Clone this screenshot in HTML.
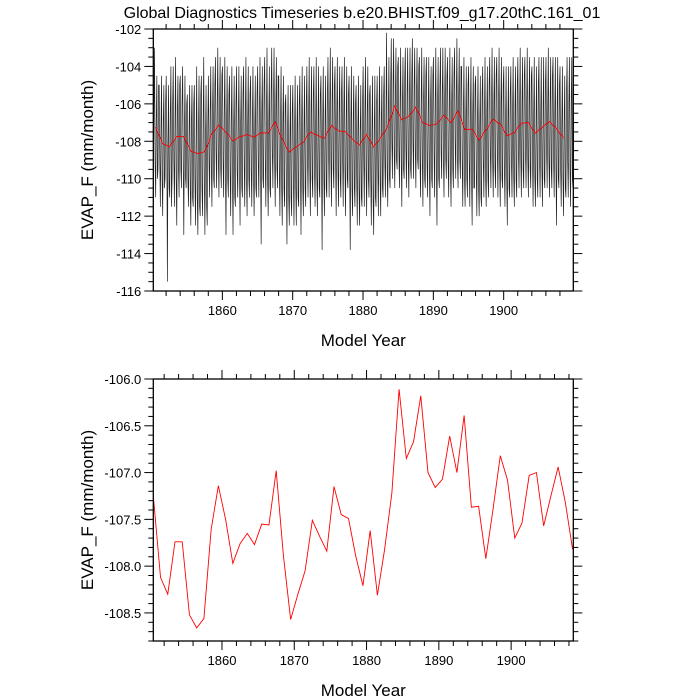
<!DOCTYPE html>
<html><head><meta charset="utf-8"><style>
html,body{margin:0;padding:0;background:#fff;}
svg{display:block;font-family:"Liberation Sans",Arial,sans-serif;}
</style></head><body>
<svg id="chart" width="700" height="700" viewBox="0 0 700 700">
<text x="362" y="18" font-size="16" text-anchor="middle">Global Diagnostics Timeseries b.e20.BHIST.f09_g17.20thC.161_01</text>
<g id="top"></g>
<g id="bot"></g>
</svg>
<script>
const years = [];
for (let y = 1850; y <= 1908; y++) years.push(y);
const annualMean = [-107.25,-108.12,-108.30,-107.74,-107.74,-108.52,-108.66,-108.56,-107.61,-107.14,
-107.50,-107.97,-107.76,-107.65,-107.77,-107.55,-107.56,-106.98,-107.89,-108.57,
-108.30,-108.05,-107.51,-107.68,-107.84,-107.15,-107.45,-107.49,-107.89,-108.21,
-107.62,-108.31,-107.82,-107.22,-106.11,-106.85,-106.67,-106.18,-107.00,-107.16,
-107.07,-106.61,-107.00,-106.39,-107.37,-107.36,-107.92,-107.39,-106.82,-107.08,
-107.70,-107.54,-107.03,-107.00,-107.57,-107.25,-106.94,-107.32,-107.82];
const monthly = [
-103.5,-108.5,-110.5,-106.5,-103,-109,-111,-107,-104.5,-110,-109.5,-105,
-105,-109,-111.5,-107.5,-104.5,-110,-112,-107,-105,-110.5,-110,-106,
-104.5,-108,-115.5,-108,-105,-110.5,-111,-106.5,-104,-111.5,-110,-106,
-104,-109,-111.5,-107,-103.5,-110,-112.5,-106.5,-104.5,-109.5,-111,-105,
-104.5,-109.5,-110.5,-106,-104,-109,-113,-107.5,-104.5,-110,-110.5,-106,
-105.5,-110,-111.5,-107.5,-105,-110.5,-112.5,-107,-105,-111,-111.5,-106,
-105,-110,-112.5,-108,-104,-111,-113,-107.5,-104.5,-111.5,-112,-105.5,
-104.5,-110.5,-112,-107,-103.5,-110,-113,-108,-105,-111.5,-112.5,-107,
-104.5,-109,-111,-106.5,-104,-109.5,-111.5,-106.5,-104,-110,-110.5,-105,
-103.5,-108.5,-110.5,-106,-103,-109,-111,-106,-103.5,-109.5,-110.5,-104.5,
-104,-109,-111,-106.5,-103.5,-109.5,-113,-107,-104,-110,-111,-105.5,
-104.5,-109.5,-112,-107,-104,-110,-113,-107.5,-104.5,-111,-111.5,-106,
-104,-109.5,-111,-107,-104,-109.5,-112.5,-107,-104.5,-110.5,-111,-105.5,
-104,-109,-111.5,-106.5,-103.5,-110,-112,-107,-104,-110,-111,-105.5,
-104.5,-109.5,-111.5,-107,-104,-110,-112,-107.5,-104.5,-110.5,-111,-105.5,
-104,-109,-111,-106.5,-103.5,-109.5,-113.5,-106.5,-104,-110,-110.5,-105,
-103.5,-109,-111.5,-106.5,-103,-110,-112,-107,-104,-110.5,-111,-105.5,
-103,-108.5,-110.5,-106,-103,-109,-111.5,-106,-103.5,-109.5,-110.5,-104.5,
-104.5,-109.5,-112,-107,-104,-110.5,-112.5,-107,-104.5,-110.5,-111.5,-106,
-105.5,-110,-113.5,-107.5,-105,-111,-112.5,-108,-105,-111,-112,-106.5,
-105,-110,-112.5,-107.5,-104.5,-110.5,-112.5,-107.5,-105,-111,-111.5,-106,
-104.5,-109.5,-113,-107,-104,-110.5,-112,-107.5,-104.5,-110.5,-111.5,-106,
-104,-109,-111,-106.5,-103.5,-109.5,-112,-106.5,-104,-110,-111,-105.5,
-104,-109.5,-111.5,-107,-103.5,-110,-112,-107,-104,-110.5,-111,-105.5,
-104.5,-109.5,-113.8,-107,-104,-110,-112,-107,-104.5,-110.5,-111,-105.5,
-103.5,-108.5,-111,-106,-103,-109,-111.5,-106,-103.5,-109.5,-110.5,-105,
-104,-109,-112,-106.5,-103.5,-109.5,-111.5,-106.5,-104,-110,-111,-105.5,
-104,-109,-111.5,-106.5,-103.5,-109.5,-112,-107,-104,-110,-110.5,-105.5,
-104.5,-109.5,-113.8,-107,-104,-110.5,-112,-107,-104.5,-110.5,-111.5,-106,
-105,-110,-112.5,-107.5,-104.5,-110.5,-112.5,-107.5,-105,-111,-111.5,-106,
-104,-109,-111.5,-106.5,-103.5,-109.5,-112,-106.5,-104,-110,-111,-105.5,
-105,-110,-112.5,-107.5,-104.5,-111,-113,-107.5,-104.5,-111,-111.5,-106,
-104.5,-109.5,-112,-107,-104,-110,-112,-107,-104.5,-110.5,-111,-105.5,
-104,-109,-111,-106.5,-102.2,-109.5,-111.5,-106.5,-103.5,-110,-110.5,-105,
-102.5,-108,-110,-105,-102.5,-108.5,-110.5,-105.5,-103,-109,-109.5,-104,
-103.5,-108.5,-110.5,-106,-103,-109,-111.5,-106,-103.5,-109.5,-110,-104.5,
-103,-108.5,-110.5,-105.5,-103,-109,-111,-105.5,-103,-109.5,-110,-104.5,
-102.5,-108,-110,-105,-103,-108.5,-110.5,-105.5,-103,-109,-109.5,-104,
-103.5,-109,-111,-106,-103,-109,-111.5,-106,-103.5,-110,-110.5,-104.5,
-103.5,-109,-111,-106.5,-103.5,-109.5,-112,-106,-104,-110,-110.5,-104.5,
-103.5,-108.5,-111,-106,-103,-109.5,-112.5,-106,-103.5,-110,-110.5,-105,
-103,-108.5,-110,-105.5,-103,-109,-111,-106,-103,-109,-110,-104.5,
-103.5,-109,-111,-106,-103,-109.5,-111.5,-106,-103.5,-109.5,-110.5,-104.5,
-103,-108,-110,-105.5,-102.5,-109,-110.5,-105.5,-103,-109,-110,-104,
-104,-109,-111.5,-106.5,-103.5,-110,-111.5,-107,-104,-110,-111,-105,
-104,-109,-111.5,-106.5,-103.5,-110,-112.5,-106.5,-104,-110.5,-110.5,-105,
-104.5,-109.5,-112,-107,-104,-110.5,-112,-107,-104.5,-111,-111.5,-105.5,
-104,-109,-111,-106.5,-103.5,-110,-111.5,-106.5,-104,-110,-111,-105,
-103.5,-108.5,-110.5,-106,-103,-109,-111,-106,-103.5,-109.5,-110.5,-104.5,
-103.5,-108.5,-111,-106,-103,-109.5,-111.5,-106,-103.5,-110,-110.5,-105,
-104,-109.5,-111.5,-107,-104,-110,-112.5,-107,-104,-110.5,-111,-105.5,
-104,-109,-111,-106.5,-103.5,-110,-111.5,-106.5,-104,-110,-111,-105,
-103.5,-108.5,-110.5,-106,-103,-109,-111,-106,-103.5,-109.5,-110.5,-104.5,
-103.5,-108.5,-110.5,-106,-103,-109,-111,-106,-103.5,-109.5,-110.5,-104.5,
-104,-109,-111.5,-106.5,-103.5,-110,-111.5,-107,-104,-110,-111,-105,
-103.5,-109,-111,-106.5,-103.5,-109.5,-111.5,-106.5,-103.5,-110,-110.5,-105,
-103.5,-108.5,-110.5,-106,-103,-109,-111,-106,-103.5,-109.5,-110.5,-104.5,
-103.5,-109,-111,-106.5,-103.5,-109.5,-112.5,-106.5,-103.5,-110,-110.5,-105,
-104,-109.5,-111.5,-107,-104,-110,-112,-107,-104.5,-110.5,-111,-105.5,
-103.5,-109,-111,-106,-103.5,-109.5,-111.5,-106,-103.5,-110,-110.5,-103.5];
const topYTicks = [-116,-114,-112,-110,-108,-106,-104,-102];
const botYTicks = [-108.5,-108.0,-107.5,-107.0,-106.5,-106.0];
const xTickLabels = [1860,1870,1880,1890,1900];

const NS = "http://www.w3.org/2000/svg";
function mk(tag, attrs, parent) {
  const e = document.createElementNS(NS, tag);
  for (const k in attrs) e.setAttribute(k, attrs[k]);
  parent.appendChild(e);
  return e;
}

function panel(g, cfg) {
  const {L, R, T, B, x0, x1, y0, y1, yMajor, yMinorStep, yFmt, id} = cfg;
  const sx = v => L + (v - x0) / (x1 - x0) * (R - L);
  const sy = v => B - (v - y0) / (y1 - y0) * (B - T);
  const clip = mk("clipPath", {id: "clip" + id}, g);
  mk("rect", {x: L, y: T, width: R - L, height: B - T}, clip);
  const tk = mk("g", {stroke: "#000", "stroke-width": 1}, g);
  
  
  for (let yr = Math.ceil(x0 / 2) * 2; yr <= x1; yr += 2) {
    const x = sx(yr), len = yr % 10 === 0 ? 9 : 5;
    mk("line", {x1: x, x2: x, y1: B, y2: B + len}, tk);
    mk("line", {x1: x, x2: x, y1: T, y2: T - len}, tk);
  }
  const nMin = Math.round((y1 - y0) / yMinorStep);
  for (let i = 0; i <= nMin; i++) {
    const v = y0 + i * yMinorStep;
    const isMaj = yMajor.some(m => Math.abs(m - v) < 1e-6);
    const y = sy(v), len = isMaj ? 9 : 5;
    mk("line", {x1: L, x2: L - len, y1: y, y2: y}, tk);
    mk("line", {x1: R, x2: R + len, y1: y, y2: y}, tk);
  }
  for (const yr of xTickLabels) {
    const t = mk("text", {x: sx(yr), y: B + 24, "font-size": 13, "text-anchor": "middle"}, g);
    t.textContent = yr;
    
    
  }
  for (const v of yMajor) {
    const t = mk("text", {x: L - 12, y: sy(v) + 5, "font-size": 13, "text-anchor": "end"}, g);
    t.textContent = yFmt(v);
    
    
  }
  const xt = mk("text", {x: (L + R) / 2, y: B + 55, "font-size": 17, "text-anchor": "middle"}, g);
  xt.textContent = "Model Year";
  
  
  const cy = (T + B) / 2;
  const yt = mk("text", {x: 93, y: cy, "font-size": 17, "text-anchor": "middle", transform: `rotate(-90 93 ${cy})`}, g);
  yt.textContent = "EVAP_F (mm/month)";
  
  
  return {sx, sy, frame: () => {
    const f = mk("rect", {x: L, y: T, width: R - L, height: B - T, fill: "none", stroke: "#000", "stroke-width": 1.3}, g);
    
    
  }};
}

const gT = document.getElementById("top");
const pT = panel(gT, {id: "t", L: 153.3, R: 573.3, T: 29, B: 291, x0: 1850.18, x1: 1909.9,
  y0: -116, y1: -102, yMajor: topYTicks, yMinorStep: 0.5, yFmt: v => String(v)});
let d = "";
monthly.forEach((v, i) => {
  const yr = 1850 + Math.floor(i / 12), m = i % 12;
  d += (i ? "L" : "M") + pT.sx(yr + (m + 0.2) / 12).toFixed(2) + " " + pT.sy(v).toFixed(2);
});
const ml = mk("path", {d, fill: "none", stroke: "#222", "stroke-width": 0.7, "clip-path": "url(#clipt)"}, gT);


let d2 = "";
annualMean.forEach((v, i) => {
  d2 += (i ? "L" : "M") + pT.sx(years[i] + 0.5).toFixed(2) + " " + pT.sy(v).toFixed(2);
});
const al = mk("path", {d: d2, fill: "none", stroke: "#ff0000", "stroke-width": 0.9}, gT);


pT.frame();

const gB = document.getElementById("bot");
const pB = panel(gB, {id: "b", L: 153.3, R: 573.3, T: 379, B: 641, x0: 1850.5, x1: 1908.6,
  y0: -108.8, y1: -106.0, yMajor: botYTicks, yMinorStep: 0.1, yFmt: v => v.toFixed(1)});
let d3 = "";
annualMean.forEach((v, i) => {
  d3 += (i ? "L" : "M") + pB.sx(years[i] + 0.5).toFixed(2) + " " + pB.sy(v).toFixed(2);
});
const bl = mk("path", {d: d3, fill: "none", stroke: "#ff0000", "stroke-width": 0.9, "clip-path": "url(#clipb)"}, gB);


pB.frame();
</script>
</body></html>
